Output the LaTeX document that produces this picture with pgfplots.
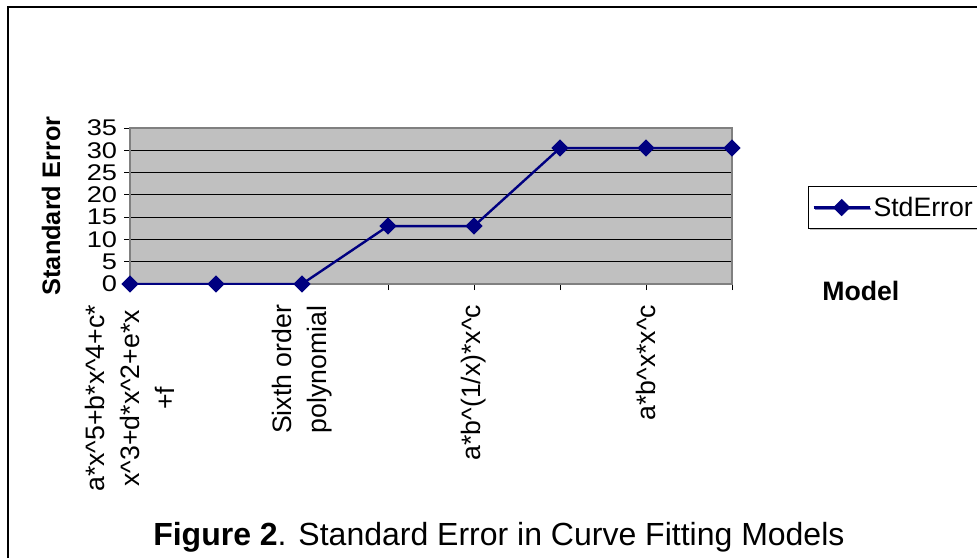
\documentclass[border=0pt]{standalone}
\usepackage{fontspec}
\setmainfont{Liberation Sans}
\newfontfamily\tickfont[FakeStretch=1.2]{Liberation Sans}
\usepackage{pgfplots}
\pgfplotsset{compat=1.18}
\usetikzlibrary{shadows}
\definecolor{navy}{HTML}{000080}
\definecolor{plotgray}{HTML}{C0C0C0}
\definecolor{framegray}{HTML}{808080}
\newcommand\ca{\textasciicircum}
\begin{document}
\begin{tikzpicture}
\path[use as bounding box] (0,0) rectangle (732.75pt,418.5pt);
% outer frame (left and top edges only are visible)
\draw[line width=1pt] (6pt,0) -- (6pt,413.25pt) -- (732.75pt,413.25pt);
\begin{axis}[
  at={(97.5pt,205.5pt)}, anchor=south west,
  scale only axis, width=451.5pt, height=117pt,
  xmin=0, xmax=7, ymin=0, ymax=35,
  xtick={0,...,7},
  xticklabels={{a*x\ca5+b*x\ca4+c*\\x\ca3+d*x\ca2+e*x\\+f},,{Sixth order\\polynomial},,{a*b\ca(1/x)*x\ca c},,{a*b\ca x*x\ca c},},
  ytick={0,5,...,35},
  xtick pos=bottom, ytick pos=left,
  tick align=outside,
  major tick length=4.5pt,
  tick style={black, line width=0.75pt},
  ymajorgrids, grid style={black, line width=0.75pt},
  axis background/.style={fill=plotgray},
  axis line style={framegray, line width=1.5pt},
  /pgf/number format/assume math mode=true,
  yticklabel style={font=\tickfont\fontsize{17}{17}\selectfont, inner sep=0pt, anchor=east, xshift=-5pt},
  xticklabel style={font=\fontsize{20}{26}\selectfont, yshift=-11pt, rotate=90, anchor=east, align=center, inner sep=0pt},
  ylabel={\textbf{Standard Error}},
  ylabel style={font=\fontsize{19}{19}\selectfont, at={(axis description cs:-0.131,0.5)}, anchor=center},
  xlabel={\textbf{Model}},
  xlabel style={font=\fontsize{20}{20}\selectfont, at={(axis description cs:1.214,-0.045)}, anchor=center},
  legend style={at={(axis description cs:1.1262,0.63)}, anchor=north west, draw=black, line width=0.75pt, fill=white,
    font=\fontsize{20}{20}\selectfont, inner xsep=3pt, inner ysep=6pt,
    drop shadow={shadow xshift=1pt, shadow yshift=-1.2pt, fill=gray}},
  legend image code/.code={\draw[mark repeat=2,mark phase=2,#1] plot coordinates {(0pt,0pt) (21pt,0pt) (42pt,0pt)};},
]
\addplot[navy, line width=1.8pt, mark=square*, mark size=3.7pt, mark options={rotate=45, solid}] coordinates {
  (0,0) (1,0) (2,0) (3,13) (4,13) (5,30.5) (6,30.5) (7,30.5)
};
\addlegendentry{StdError}
\end{axis}
\node[anchor=base west, font=\fontsize{24}{28}\selectfont, inner sep=0pt] at (114.75pt,9.75pt) {\textbf{Figure 2}. Standard Error in Curve Fitting Models};
\end{tikzpicture}
\end{document}
